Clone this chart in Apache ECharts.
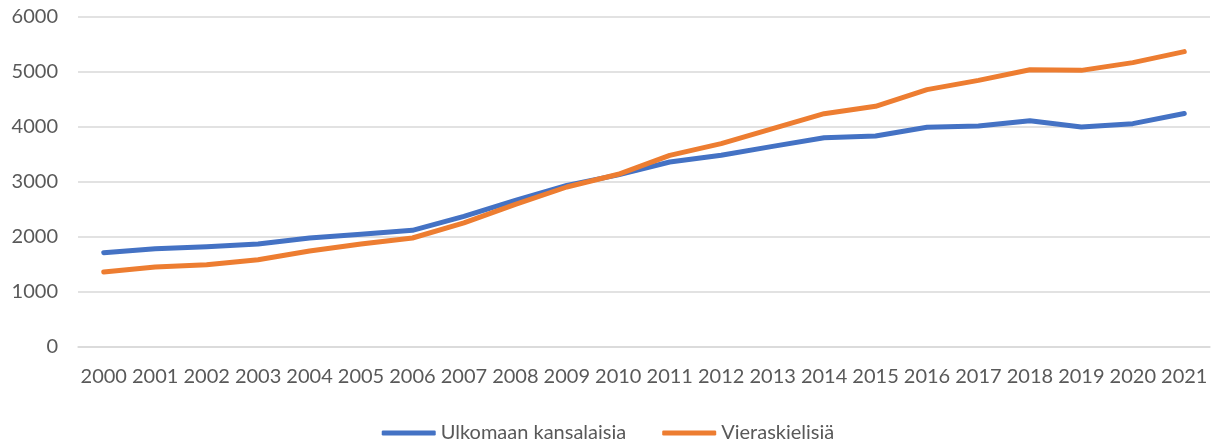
<!DOCTYPE html>
<html>
<head>
<meta charset="utf-8">
<script src="https://cdn.jsdelivr.net/npm/echarts@6/dist/echarts.min.js"></script>
<style>
  html, body { margin: 0; padding: 0; background: #fff; }
  #chart { width: 1216px; height: 441px; }
</style>
</head>
<body>
<div id="chart"></div>
<script>
  const years = ['2000', '2001', '2002', '2003', '2004', '2005', '2006', '2007', '2008', '2009', '2010',
    '2011', '2012', '2013', '2014', '2015', '2016', '2017', '2018', '2019', '2020', '2021']
  const ulkomaan = [1715, 1788, 1824, 1873, 1982, 2048, 2121, 2376, 2667, 2939, 3130,
    3364, 3485, 3648, 3806, 3836, 3994, 4018, 4115, 4000, 4061, 4245]
  const vieraskieliset = [1364, 1455, 1497, 1588, 1745, 1873, 1982, 2255, 2594, 2909, 3140,
    3485, 3697, 3970, 4242, 4376, 4679, 4848, 5042, 5030, 5170, 5370]

  const textColor = '#595959'
  const font = 'Lato'

  const chart = echarts.init(document.getElementById('chart'))
  chart.setOption({
    backgroundColor: '#ffffff',
    animation: false,
    textStyle: { fontFamily: font },
    legend: {
      top: 418,
      left: 'center',
      itemWidth: 54,
      itemHeight: 5,
      itemGap: 36,
      icon: 'roundRect',
      textStyle: { fontSize: 20, color: textColor, fontFamily: font },
      data: ['Ulkomaan kansalaisia', 'Vieraskielisiä']
    },
    grid: {
      left: 78,
      right: 6,
      top: 17,
      bottom: 94,
      containLabel: false
    },
    xAxis: {
      type: 'category',
      boundaryGap: true,
      data: years,
      axisLine: { lineStyle: { color: '#d9d9d9', width: 1.5 } },
      axisTick: { show: false },
      axisLabel: { interval: 0, margin: 20, fontSize: 20, color: textColor, fontFamily: font }
    },
    yAxis: {
      type: 'value',
      min: 0,
      max: 6000,
      interval: 1000,
      axisLine: { show: false },
      axisTick: { show: false },
      axisLabel: {
        margin: 20,
        fontSize: 20,
        color: textColor,
        fontFamily: font,
        formatter: (v) => String(v)
      },
      splitLine: { lineStyle: { color: '#d9d9d9', width: 1.5 } }
    },
    series: [
      {
        name: 'Ulkomaan kansalaisia',
        type: 'line',
        data: ulkomaan,
        showSymbol: false,
        symbol: 'none',
        color: '#4472c4',
        lineStyle: { width: 5, color: '#4472c4', cap: 'round', join: 'round' }
      },
      {
        name: 'Vieraskielisiä',
        type: 'line',
        data: vieraskieliset,
        showSymbol: false,
        symbol: 'none',
        color: '#ed7d31',
        lineStyle: { width: 5, color: '#ed7d31', cap: 'round', join: 'round' }
      }
    ]
  })
</script>
</body>
</html>
